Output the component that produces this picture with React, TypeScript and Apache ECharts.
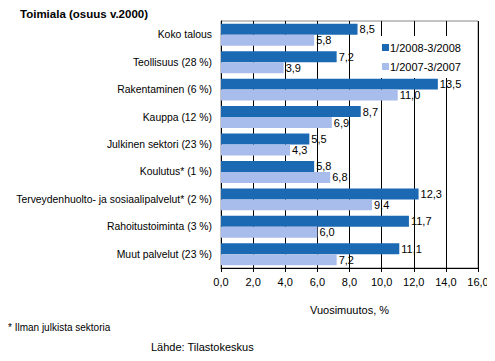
import React, { useEffect, useRef } from "react";
import * as echarts from "echarts";

const categories = [
  "Koko talous",
  "Teollisuus (28 %)",
  "Rakentaminen (6 %)",
  "Kauppa (12 %)",
  "Julkinen sektori (23 %)",
  "Koulutus* (1 %)",
  "Terveydenhuolto- ja sosiaalipalvelut* (2 %)",
  "Rahoitustoiminta (3 %)",
  "Muut palvelut (23 %)",
];
const series2008 = [8.5, 7.2, 13.5, 8.7, 5.5, 5.8, 12.3, 11.7, 11.1];
const series2007 = [5.8, 3.9, 11.0, 6.9, 4.3, 6.8, 9.4, 6.0, 7.2];
const seriesNames = ["1/2008-3/2008", "1/2007-3/2007"];
const xTicks = { min: 0, max: 16, interval: 2 };

const FONT = "Liberation Sans, Arial, sans-serif";
const fmt = (v: number) => v.toFixed(1).replace(".", ",");

export default function App() {
  const ref = useRef<HTMLDivElement>(null);
  useEffect(() => {
    if (!ref.current) return;
    const chart = echarts.init(ref.current, undefined, { renderer: "svg" });
    const labelStyle = {
      show: true,
      position: "right" as const,
      distance: 2,
      color: "#000",
      fontSize: 11,
      fontFamily: FONT,
      formatter: (p: any) => fmt(p.value),
    };
    chart.setOption({
      animation: false,
      backgroundColor: "#fff",
      textStyle: { fontFamily: FONT },
      grid: {
        left: 221,
        top: 21,
        right: 17,
        bottom: 93,
        show: true,
        borderColor: "#888",
        borderWidth: 1,
      },
      legend: {
        orient: "vertical",
        left: 378,
        top: 36,
        itemWidth: 7,
        itemHeight: 7,
        itemGap: 8,
        backgroundColor: "#fff",
        padding: [6, 4, 6, 4],
        icon: "rect",
        textStyle: { fontSize: 11, fontFamily: FONT, color: "#000", padding: [0, 0, 0, -4] },
        data: seriesNames,
      },
      xAxis: {
        type: "value",
        min: xTicks.min,
        max: xTicks.max,
        interval: xTicks.interval,
        axisLine: { show: true, lineStyle: { color: "#000" } },
        axisTick: { show: true, length: 4, lineStyle: { color: "#000" } },
        splitLine: { show: true, lineStyle: { color: "#000", width: 1 } },
        axisLabel: {
          fontSize: 11,
          fontFamily: FONT,
          color: "#000",
          margin: 8,
          formatter: (v: number) => fmt(v),
        },
        name: "Vuosimuutos, %",
        nameLocation: "middle",
        nameGap: 36,
        nameTextStyle: { fontSize: 11, fontFamily: FONT, color: "#000" },
      },
      yAxis: {
        type: "category",
        data: categories,
        inverse: true,
        axisLine: { show: true, lineStyle: { color: "#000" } },
        axisTick: { show: false },
        axisLabel: { fontSize: 10.4, fontFamily: FONT, color: "#000", margin: 9 },
      },
      series: [
        {
          name: seriesNames[0],
          type: "bar",
          data: series2008,
          barGap: "0%",
          barCategoryGap: "20%",
          itemStyle: { color: "#1b69b3" },
          label: labelStyle,
        },
        {
          name: seriesNames[1],
          type: "bar",
          data: series2007,
          barGap: "0%",
          barCategoryGap: "20%",
          itemStyle: { color: "#a8bdeb" },
          label: labelStyle,
        },
      ],
      graphic: [
        {
          type: "text",
          left: 20,
          top: 8,
          style: { text: "Toimiala (osuus v.2000)", fontSize: 11.5, fontWeight: "bold", fontFamily: FONT, fill: "#000" },
        },
        {
          type: "text",
          left: 8,
          top: 322,
          style: { text: "* Ilman julkista sektoria", fontSize: 10, fontFamily: FONT, fill: "#000" },
        },
        {
          type: "text",
          left: 151,
          top: 341,
          style: { text: "Lähde: Tilastokeskus", fontSize: 11, fontFamily: FONT, fill: "#000" },
        },
      ],
    });
    return () => chart.dispose();
  }, []);
  return <div ref={ref} style={{ width: 495, height: 361, margin: -8 }} />;
}
